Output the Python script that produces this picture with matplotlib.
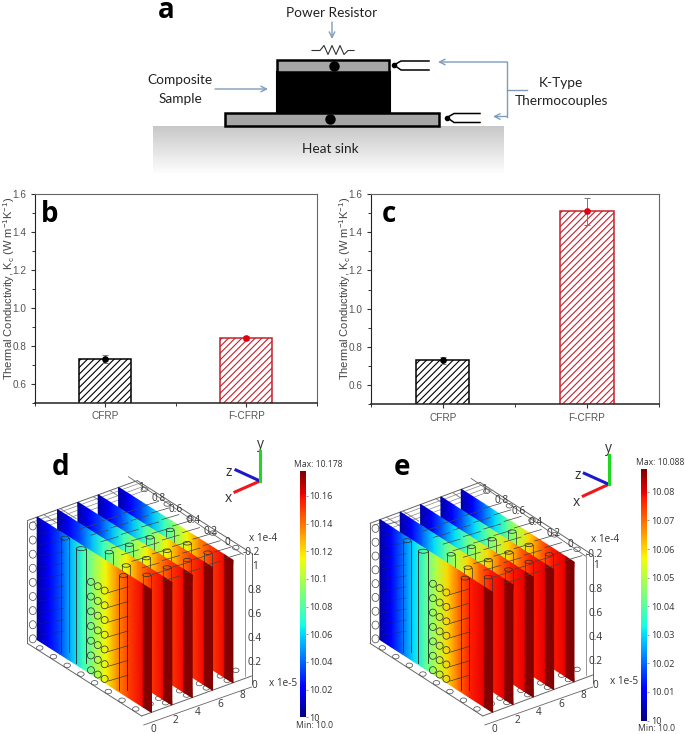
import matplotlib
matplotlib.use('Agg')
import matplotlib.pyplot as plt
import numpy as np
from matplotlib.patches import Rectangle, Ellipse

# bar charts
categories = ['CFRP', 'F-CFRP']
bar_b = [0.73, 0.84]
err_b = [0.02, 0.01]
bar_c = [0.73, 1.51]
err_c = [0.02, 0.07]
bar_colors = ['black', '#c8202a']
marker_colors = ['black', '#e00010']
y_ticks = [0.6, 0.8, 1.0, 1.2, 1.4, 1.6]

# temperature along the depth of each slice, front edge to far edge
depth = [0, .1, .2, .3, .4, .5, .6, .7, .8, .92, .93, 1]
temp_d = [10.006, 10.02, 10.035, 10.055, 10.075, 10.095, 10.115, 10.135, 10.15, 10.16, 10.176, 10.178]
temp_e = [10.003, 10.011, 10.02, 10.03, 10.04, 10.05, 10.06, 10.07, 10.077, 10.08, 10.087, 10.088]
slices = [0.09, 0.275, 0.46, 0.645, 0.83]
ticks_d = [10, 10.02, 10.04, 10.06, 10.08, 10.1, 10.12, 10.14, 10.16]
ticks_e = [10, 10.01, 10.02, 10.03, 10.04, 10.05, 10.06, 10.07, 10.08]
x_labels = ['0', '2', '4', '6', '8']
z_labels = ['1', '0.8', '0.6', '0.4', '0.2', '0', '-0.2']
y_labels = ['0', '0.2', '0.4', '0.6', '0.8', '1']

W, H = 685, 734
plt.rcParams['font.family'] = ['Liberation Sans', 'DejaVu Sans']
plt.rcParams['mathtext.fontset'] = 'custom'
plt.rcParams['mathtext.rm'] = 'Liberation Sans'
plt.rcParams['mathtext.default'] = 'regular'
plt.rcParams['hatch.linewidth'] = 0.8

fig = plt.figure(figsize=(W / 100, H / 100), dpi=100)


def box(x0, y0, x1, y1):
    return [x0 / W, 1 - y1 / H, (x1 - x0) / W, (y1 - y0) / H]


def bars(pos, vals, errs):
    a = fig.add_axes(box(*pos))
    for i in range(2):
        a.bar(i + 1, vals[i], 0.37, bottom=0, facecolor='white', edgecolor=bar_colors[i],
              hatch='/////', lw=1.1)
        a.errorbar(i + 1, vals[i], yerr=errs[i], color='#777777', lw=0.7, capsize=2.5, capthick=0.7,
                   marker='o', ms=3.8, mfc=marker_colors[i], mec=marker_colors[i])
    a.set_xlim(0.5, 2.5)
    a.set_ylim(0.5, 1.6)
    a.set_xticks([1, 2])
    a.set_xticklabels(categories)
    a.set_xticks([0.5, 1.5, 2.5], minor=True)
    a.set_yticks(y_ticks)
    a.set_yticks([0.5, 0.7, 0.9, 1.1, 1.3, 1.5], minor=True)
    a.tick_params(labelsize=7.2, length=3, width=0.8, color='#333333', labelcolor='#555555', pad=3)
    a.tick_params(which='minor', length=2, width=0.7, color='#333333')
    for s in ['top', 'right']:
        a.spines[s].set_color('#666666')
    for s in ['left', 'bottom']:
        a.spines[s].set_color('#222222')
    a.spines['bottom'].set_linewidth(1.1)


bars((35, 194, 316.7, 402.5), bar_b, err_b)
bars((370.7, 194, 659, 404.3), bar_c, err_c)

# everything else is laid out in picture pixels
ax = fig.add_axes([0, 0, 1, 1], facecolor='none')
ax.axis('off')

kc_label = 'Thermal Conductivity, K$_c$ (W m$^{-1}$K$^{-1}$)'
for lx in [9, 345]:
    ax.text(lx, 288.5, kc_label, rotation=90, fontsize=8, color='#444444', ha='center', va='center')

# ---- panel a
blue = '#7f9dbb'
txt = dict(family=['Lato', 'DejaVu Sans'], color='#222222', ha='center', va='center')
grad = np.linspace(0, 1, 50).reshape(-1, 1)
ax.imshow(grad, extent=(153, 504, 173, 126), cmap='gray', vmin=-3.8, vmax=1.05, aspect='auto', zorder=1)
ax.add_patch(Rectangle((277, 72), 113, 40, fc='black', ec='black', lw=1.5, zorder=2))
ax.add_patch(Rectangle((277, 60), 112, 12, fc='#a6a6a6', ec='black', lw=1.8, zorder=3))
ax.add_patch(Rectangle((225, 113), 214, 13, fc='#a6a6a6', ec='black', lw=1.8, zorder=3))
ax.plot([333.7, 330.3], [65.7, 119], 'o', color='black', ms=6.5, zorder=4)
for tx, ty, n in [(394, 65, 429), (447, 117.5, 480)]:
    ax.plot(tx, ty, 'o', color='black', ms=3, zorder=4)
    ax.plot([tx, tx + 7, n], [ty, ty - 4, ty - 4], color='black', lw=1.1, zorder=4)
    ax.plot([tx, tx + 7, n], [ty, ty + 5, ty + 5], color='black', lw=1.1, zorder=4)
ax.plot([312, 320, 324, 328, 332, 336, 340, 344, 348, 354], [50.5, 50.5, 45.5, 54.5, 45.5, 54.5, 45.5, 54.5, 50.5, 50.5],
        color='#333333', lw=0.8)
arrow = dict(arrowstyle='->', color=blue, lw=1, mutation_scale=10, shrinkA=0, shrinkB=0)
ax.annotate('', xy=(332, 39), xytext=(332, 22), arrowprops=arrow)
ax.annotate('', xy=(268, 89), xytext=(215, 89), arrowprops=arrow)
ax.annotate('', xy=(438, 62), xytext=(507, 62), arrowprops=arrow)
ax.annotate('', xy=(493, 116.5), xytext=(507, 116.5), arrowprops=arrow)
ax.plot([507, 507], [62, 116.5], color=blue, lw=1)
ax.plot([507, 527], [89.5, 89.5], color=blue, lw=1)
ax.text(331.7, 12.7, 'Power Resistor', fontsize=9.8, **txt)
ax.text(180, 80, 'Composite', fontsize=9.8, **txt)
ax.text(180, 99, 'Sample', fontsize=9.8, **txt)
ax.text(330.7, 149, 'Heat sink', fontsize=9.8, **txt)
ax.text(561, 82.7, 'K-Type', fontsize=9.8, **txt)
ax.text(561, 101, 'Thermocouples', fontsize=9.8, **txt)

bold = dict(family=['Open Sans', 'DejaVu Sans'], fontweight='bold', color='black', ha='center', va='baseline', fontsize=20)
ax.text(166, 18, 'a', **bold)
ax.text(50, 221.7, 'b', **bold)
ax.text(389, 222, 'c', **bold)
ax.text(60.7, 475, 'd', **bold)
ax.text(402, 475, 'e', **bold)


# ---- panels d and e
def panel(O, eu, ev, eh, temps, vmin, vmax, cbar, ticks, top_lab, bot_lab, triad):
    O, eu, ev, eh = map(np.array, (O, eu, ev, eh))

    def P(u, v, h):
        return O + eu * u + ev * v + eh * h

    def line(p, q, c='#555555', lw=0.6, z=5):
        ax.plot([p[0], q[0]], [p[1], q[1]], color=c, lw=lw, zorder=z, solid_capstyle='round')

    def ring(c, w=6.5, hh=4.5, z=5, col='#555555'):
        ax.add_patch(Ellipse(c, w, hh, fc='none', ec=col, lw=0.55, zorder=z))

    # wire frame
    for a, b in [((0, 0, 0), (0, 0, 1)), ((0, 0, 1), (1, 0, 1)), ((0, 0, 0), (0, 1, 0)), ((0, 1, 0), (1, 1, 0)),
                 ((1, 1, 0), (1, 1, 1)), ((1, 1, 1), (1, 0, 1))]:
        line(P(*a), P(*b), c='#666666', lw=0.7, z=2)
    for i in range(1, 6):
        line(P(.15 * i, 0, 1), P(.15 * i, .14, 1), c='#777777', z=2)
    for v in [.03, .07, .11]:
        line(P(0, v, 1), P(1, v, 1), c='#888888', lw=0.5, z=2)
    # outer axis lines
    top0 = P(1, 0, 1) + np.array([-9, -4])
    line(top0, top0 + np.array([115, 78]), c='#666666', lw=0.6, z=2)
    bot0 = P(0, 1, 0) + np.array([2, 9])
    line(bot0, bot0 + np.array([108, -38]), c='#666666', lw=0.6, z=2)
    rt = P(1, 1, 0)
    line(rt + np.array([-7, 0]), rt + np.array([-7, -122]), c='#888888', lw=0.6, z=2)
    line(rt + np.array([0, 8]), rt + np.array([0, -118]), c='#666666', lw=0.7, z=2)

    # cylinder ends round the frame
    for h in np.linspace(.02, .94, 9):
        ring(P(0.05, 0, h), 7, 8, z=2)
    for v in [.08, .2, .32, .44, .56, .68, .8, .92]:
        ring(P(0.03, v, 0), z=2)
        ring(P(0.16, v, 0), z=2)
    for v in [.9, .96]:
        for u in [.26, .45, .63, .82]:
            ring(P(u, v, 0), z=2)
    for v in [.1, .3, .5, .7, .9]:
        ring(P(.96, v, 1), z=2)
        ring(P(.96, v, 0), z=2)

    # the slices, back to front
    for n in range(4, -1, -1):
        u = slices[n]
        vv = np.array(depth)
        hh = np.array([0, 1])
        X = np.array([[P(u, v, h)[0] for v in vv] for h in hh])
        Y = np.array([[P(u, v, h)[1] for v in vv] for h in hh])
        C = np.array([temps, temps])
        ax.pcolormesh(X, Y, C, cmap='jet', vmin=vmin, vmax=vmax, shading='gouraud', zorder=3 + (4 - n) * 0.1)
        zs = 3.05 + (4 - n) * 0.1
        # fibres and vertical cylinders show through
        if n > 0:
            for v in np.arange(.2, .93, .09):
                a = P(u, v, 1) + np.array([0, 1.5])
                ax.plot([a[0], a[0] + 17], [a[1] + 3, a[1] - 2], color='#444444', lw=0.5, zorder=zs)
            for v, top in [(.45, .92), (.6, .9), (.78, .93)]:
                c = P(u, v, top)
                ring(c, 8, 3.5, z=zs, col='#333333')
                ax.plot([c[0] - 4, c[0] - 4], [c[1], c[1] + 16], color='#333333', lw=0.5, zorder=zs)
                ax.plot([c[0] + 4, c[0] + 4], [c[1], c[1] + 16], color='#333333', lw=0.5, zorder=zs)
        else:
            for h in np.arange(.05, .98, .092):
                a = P(u, .02, h)
                ax.plot([a[0], a[0] + 24], [a[1], a[1] - 4], color='#22225a', lw=0.45, alpha=.55, zorder=zs)
            for h in np.arange(.03, .76, .12):
                for v in [.47, .53, .59]:
                    ring(P(u, v, h), 7, 7, z=zs, col='#333333')
                e = P(u, .62, h)
                ax.plot([e[0], e[0] + 20], [e[1], e[1] - 6], color='#333333', lw=0.45, zorder=zs)
            for v, w in [(.24, 8), (.385, 10), (.755, 8)]:
                a = P(u, v, .97)
                b = P(u, v, .04)
                ring(a, w, 4, z=zs, col='#333333')
                ax.plot([a[0] - w / 2, a[0] - w / 2], [a[1], b[1]], color='#222222', lw=0.6, zorder=zs)
                ax.plot([a[0] + w / 2, a[0] + w / 2], [a[1], b[1]], color='#222222', lw=0.6, zorder=zs)

    # axis labels
    lab = dict(fontsize=7.2, color='#333333', family=['Open Sans', 'DejaVu Sans'], ha='center', va='center')
    base = P(0, 1, 0) + np.array([12, 13])
    for i, t in enumerate(x_labels):
        ax.text(base[0] + 22.2 * i, base[1] - 8.3 * i, t, **lab)
    base = P(1, 0, 1) + np.array([4, 7])
    for i, t in enumerate(z_labels):
        ax.text(base[0] + 17.3 * i + (6 if i == 6 else 0), base[1] + 11 * i - (1 if i == 6 else 0), t, **lab)
    base = P(1, 1, 0) + np.array([3, 10])
    for i, t in enumerate(y_labels):
        ax.text(base[0], base[1] - 23.9 * i, t, **lab)
    p = P(1, 1, 0)
    ax.text(p[0] + 31, p[1] + 7, 'x 1e-5', **lab)
    p = P(1, 1, 1)
    ax.text(p[0] + 12, p[1] - 15, 'x 1e-4', **lab)

    # axes triad
    o, xe, ze, ye = triad
    ax.plot([o[0], xe[0]], [o[1], xe[1]], color='#f01818', lw=2.2, zorder=6)
    ax.plot([o[0], ze[0]], [o[1], ze[1]], color='#1a1ac8', lw=2.2, zorder=6)
    ax.plot([o[0], ye[0]], [o[1], ye[1]], color='#20d820', lw=2.2, zorder=6)
    tr = dict(fontsize=10, color='#333333', family=['Open Sans', 'DejaVu Sans'], ha='center', va='center')
    ax.text(xe[0] - 7, xe[1] + 6, 'x', **tr)
    ax.text(ze[0] - 7, ze[1] + 2, 'z', **tr)
    ax.text(ye[0], ye[1] - 6, 'y', **tr)

    # colour bar
    cb = fig.add_axes(box(*cbar))
    cb.pcolormesh([0, 1], np.linspace(vmin, vmax, 257), np.linspace(vmin, vmax, 256).reshape(-1, 1),
                  cmap='jet', vmin=vmin, vmax=vmax)
    cb.set_ylim(vmin, vmax)
    cb.set_xticks([])
    cb.yaxis.tick_right()
    cb.set_yticks(ticks)
    cb.set_yticklabels(['%g' % t for t in ticks])
    cb.tick_params(length=1.5, width=0.4, labelsize=6.6, labelcolor='#333333', pad=1, color='#444444')
    for s in cb.spines.values():
        s.set_visible(False)
    for t in cb.get_yticklabels():
        t.set_family(['Open Sans', 'DejaVu Sans'])
    ax.text(cbar[0] + 19, cbar[1] - 6.5, top_lab, fontsize=6.2, color='#333333', ha='center', va='center',
            family=['Open Sans', 'DejaVu Sans'])
    ax.text(cbar[0] + 15.5, cbar[3] + 8, bot_lab, fontsize=6.2, color='#333333', ha='center', va='center',
            family=['Open Sans', 'DejaVu Sans'])


panel((27.3, 643.3), (110, -40), (114.3, 72.7), (0, -122.7), temp_d, 10.0, 10.178, (299.5, 471, 306, 717.3), ticks_d,
      'Max: 10.178', 'Min: 10.0', ((260, 481), (235, 492), (236, 470), (260, 451)))
panel((370, 643.3), (110, -41), (112.7, 72.7), (0, -120), temp_e, 10.0, 10.088, (640.7, 469, 647.3, 720.5), ticks_e,
      'Max: 10.088', 'Min: 10.0', ((608.7, 484.3), (583.3, 496), (584.3, 473.3), (608.7, 455)))

ax.set_xlim(0, W)
ax.set_ylim(H, 0)
fig.savefig('out.png', dpi=100)
